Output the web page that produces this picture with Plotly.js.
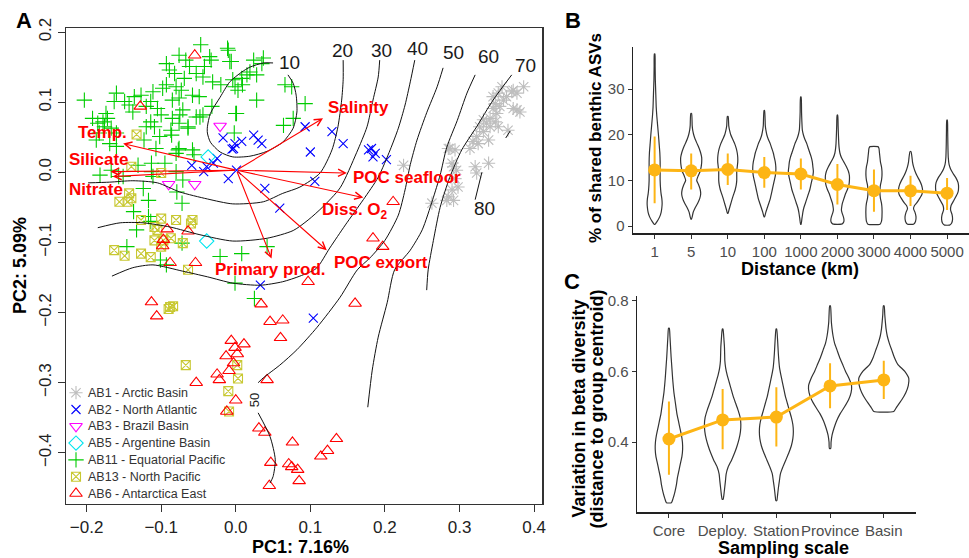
<!DOCTYPE html>
<html><head><meta charset="utf-8">
<script src="https://cdn.plot.ly/plotly-3.0.1.min.js"></script>
<style>html,body{margin:0;padding:0;background:#fff}#chart{width:969px;height:558px}</style>
</head><body><div id="chart"></div>
<script>
// ---------------- Panel A: PCA scores ----------------
const groupNames = ['AB1 - Arctic Basin','AB2 - North Atlantic','AB3 - Brazil Basin','AB5 - Argentine Basin','AB11 - Equatorial Pacific','AB13 - North Pacific','AB6 - Antarctica East'];

const ab1X = [0.386,0.372,0.377,0.370,0.363,0.357,0.352,0.359,0.348,0.345,0.354,0.350,0.341,0.336,0.348,0.352,0.365,0.327,0.332,0.323,0.318,0.314,0.325,0.339,0.332,0.377,0.381,0.372,0.285,0.294,0.290,0.296,0.294,0.298,0.290,0.285,0.292,0.283,0.263,0.225,0.321,0.339,0.323,0.341,0.345,0.287,0.292];
const ab1Y = [0.122,0.117,0.113,0.115,0.108,0.122,0.113,0.103,0.098,0.091,0.094,0.084,0.077,0.070,0.072,0.065,0.060,0.065,0.058,0.051,0.044,0.034,0.041,0.046,0.075,0.089,0.086,0.091,0.034,0.032,0.013,0.003,-0.009,-0.021,-0.025,-0.035,-0.040,-0.040,-0.044,0.010,0.008,0.013,-0.001,0.065,0.108,0.034,0.008];

const ab2X = [0.093,0.129,0.144,0.100,0.178,0.182,0.187,0.184,0.202,-0.017,-0.001,-0.003,-0.005,0.008,0.024,0.030,0.035,0.001,-0.010,0.039,0.059,0.106,-0.059,-0.043,-0.030,-0.025,-0.039,0.033,0.104];
const ab2Y = [0.065,0.058,0.041,0.029,0.032,0.034,0.027,0.022,0.018,0.049,0.041,0.034,0.033,0.044,0.053,0.046,0.041,0.003,-0.009,-0.023,-0.051,-0.013,0.010,0.001,0.013,0.020,0.008,-0.161,-0.208];

const ab3X = [-0.021,-0.090,-0.055];
const ab3Y = [0.066,-0.017,-0.017];

const ab5X = [-0.037,-0.039];
const ab5Y = [0.022,-0.098];

const ab11X = [-0.047,-0.011,-0.076,-0.035,-0.033,-0.006,-0.093,-0.067,-0.062,-0.042,-0.082,-0.089,-0.053,-0.044,-0.069,-0.031,-0.020,-0.004,0.003,0.009,-0.093,-0.098,-0.080,-0.073,-0.058,-0.049,-0.085,-0.076,-0.111,-0.127,-0.136,-0.149,-0.160,-0.163,-0.203,-0.143,-0.138,-0.120,-0.114,-0.105,-0.100,-0.071,-0.053,-0.044,-0.085,-0.076,-0.114,-0.120,-0.109,-0.087,-0.064,-0.174,-0.172,-0.178,-0.192,-0.185,-0.176,-0.167,-0.160,-0.183,-0.187,-0.169,-0.160,-0.123,-0.102,-0.076,-0.058,0.000,-0.002,-0.107,
  -0.010,-0.008,0.024,0.037,0.008,0.015,-0.001,0.028,0.001,0.066,0.064,0.077,-0.032,-0.048,-0.075,-0.064,-0.086,-0.095,-0.077,-0.113,-0.131,-0.113,-0.182,-0.157,-0.124,-0.079,-0.072,-0.117,-0.133,-0.117,-0.137,-0.146,-0.072,-0.021,0.008,0.042,-0.101,
  0.028,0.019,0.075,0.093,0.035,-0.167,-0.151,-0.111,-0.080,-0.071,-0.114,-0.093,-0.056,-0.080,-0.001,0.025];
const ab11Y = [0.182,0.177,0.167,0.165,0.160,0.158,0.155,0.160,0.151,0.151,0.141,0.146,0.141,0.136,0.134,0.129,0.125,0.132,0.117,0.125,0.125,0.120,0.122,0.117,0.110,0.108,0.103,0.106,0.115,0.110,0.108,0.101,0.113,0.101,0.103,0.096,0.086,0.094,0.101,0.091,0.082,0.089,0.079,0.082,0.077,0.070,0.072,0.065,0.065,0.060,0.063,0.084,0.077,0.072,0.077,0.070,0.065,0.063,0.056,0.056,0.046,0.041,0.037,0.046,0.051,0.034,0.032,0.084,0.056,0.034,
  0.174,0.158,0.160,0.163,0.134,0.139,0.122,0.103,0.084,0.125,0.067,0.077,0.094,0.079,0.082,0.065,0.053,0.013,0.032,0.013,0.010,0.001,-0.004,-0.006,-0.023,-0.028,-0.044,-0.040,-0.082,-0.063,-0.056,-0.106,-0.101,-0.120,-0.116,-0.106,-0.125,
  0.139,0.143,0.122,0.098,0.155,0.003,-0.006,-0.006,0.001,-0.011,-0.070,-0.132,0.025,0.027,-0.158,-0.180];

const ab13X = [-0.140,-0.100,-0.143,-0.156,-0.145,-0.140,-0.127,-0.100,-0.080,-0.060,-0.058,-0.109,-0.105,-0.109,-0.087,-0.071,-0.100,-0.163,-0.149,-0.127,-0.114,-0.064,-0.133,-0.097,-0.088,-0.084,-0.090,-0.067,0.002,0.003,-0.010,-0.009];
const ab13Y = [0.008,-0.001,-0.030,-0.042,-0.042,-0.037,-0.068,-0.066,-0.068,-0.073,-0.068,-0.078,-0.082,-0.097,-0.094,-0.101,-0.106,-0.111,-0.119,-0.116,-0.121,-0.139,0.054,-0.097,-0.192,-0.191,-0.195,-0.275,-0.275,-0.294,-0.312,-0.341];

const ab6X = [-0.055,-0.128,-0.092,-0.064,-0.097,-0.098,-0.088,-0.054,-0.113,-0.106,0.034,0.046,0.063,0.060,0.097,0.160,-0.006,-0.001,0.011,0.002,-0.013,-0.003,-0.009,-0.025,-0.022,-0.053,0.042,0.000,-0.012,0.031,0.039,0.076,0.135,0.123,0.114,0.047,0.071,0.075,0.083,0.085,0.045,0.211,0.184,0.197];
const ab6Y = [0.167,0.094,-0.081,-0.084,-0.096,-0.105,-0.129,-0.129,-0.185,-0.205,-0.188,-0.213,-0.211,-0.236,-0.156,-0.187,-0.240,-0.250,-0.245,-0.259,-0.262,-0.272,-0.283,-0.288,-0.296,-0.300,-0.296,-0.325,-0.341,-0.365,-0.371,-0.385,-0.380,-0.397,-0.405,-0.414,-0.416,-0.420,-0.424,-0.440,-0.447,-0.042,-0.094,-0.106];

// ordisurf contour lines (% shared ASVs)
const c10X = [0.050,0.037,0.019,0.008,-0.008,-0.021,-0.034,-0.038,-0.038,-0.034,-0.021,-0.004,0.019,0.042,0.063,0.077,0.082,0.081,0.077,0.070];
const c10Y = [0.156,0.156,0.150,0.143,0.129,0.107,0.084,0.065,0.056,0.043,0.029,0.022,0.023,0.030,0.043,0.063,0.086,0.110,0.127,0.139];
const c20X = [-0.198,-0.169,-0.138,-0.105,-0.075,-0.038,-0.004,0.037,0.063,0.086,0.113,0.129,0.137,0.142,0.144,0.144];
const c20Y = [-0.015,-0.014,-0.012,-0.015,-0.028,-0.038,-0.045,-0.042,-0.030,-0.021,-0.001,0.032,0.065,0.103,0.132,0.160];
const c30X = [-0.185,-0.155,-0.124,-0.088,-0.048,-0.004,0.042,0.077,0.097,0.116,0.140,0.162,0.176,0.184,0.191,0.193];
const c30Y = [-0.079,-0.072,-0.072,-0.078,-0.089,-0.098,-0.094,-0.083,-0.068,-0.050,-0.022,0.028,0.065,0.103,0.136,0.160];
const c40X = [0.240,0.234,0.227,0.218,0.207,0.191,0.171,0.147,0.126,0.108,0.086,0.063,0.033,-0.004,-0.038,-0.071,-0.111,-0.138,-0.166];
const c40Y = [0.160,0.129,0.096,0.063,0.032,-0.007,-0.039,-0.075,-0.108,-0.137,-0.148,-0.156,-0.161,-0.158,-0.149,-0.141,-0.132,-0.136,-0.148];
const c50aX = [0.278,0.270,0.256,0.243,0.234,0.227,0.218,0.200,0.180,0.163,0.140,0.109,0.082,0.059,0.037,0.030];
const c50aY = [0.149,0.122,0.085,0.046,0.011,-0.025,-0.061,-0.097,-0.122,-0.139,-0.178,-0.221,-0.253,-0.275,-0.293,-0.300];
const c50bX = [0.030,0.046,0.053,0.050,0.046];
const c50bY = [-0.343,-0.377,-0.410,-0.434,-0.443];
const c60X = [0.321,0.310,0.297,0.283,0.274,0.264,0.250,0.234,0.213,0.203,0.191,0.183,0.177];
const c60Y = [0.139,0.113,0.074,0.036,-0.004,-0.039,-0.082,-0.111,-0.139,-0.186,-0.235,-0.282,-0.335];
const c70X = [0.370,0.345,0.323,0.303,0.287,0.274,0.265,0.258,0.256];
const c70Y = [0.139,0.103,0.065,0.032,-0.007,-0.050,-0.097,-0.139,-0.168];
const c80aX = [0.368,0.362];
const c80aY = [0.059,0.049];
const c80bX = [0.330,0.321];
const c80bY = [0.000,-0.039];

const contourLabels = ['10','20','30','40','50','60','70','80'];
const contourLabelX = [0.072,0.143,0.195,0.243,0.292,0.339,0.388,0.334];
const contourLabelY = [0.157,0.174,0.174,0.176,0.171,0.165,0.153,-0.052];
const contourSideLabel = '50';
const contourSideX = 0.0245, contourSideY = -0.325;

// environmental fitted vectors
const envNames = ['Temp.','Silicate','Nitrate','Salinity','POC seafloor','Diss. O<sub>2</sub>','POC export','Primary prod.'];
const envTipX = [-0.151,-0.168,-0.165,0.117,0.149,0.171,0.122,0.048];
const envTipY = [0.041,0.001,-0.006,0.077,-0.001,-0.036,-0.111,-0.123];
const envLabelX = [-0.179,-0.183,-0.187,0.164,0.229,0.160,0.195,0.047];
const envLabelY = [0.057,0.018,-0.024,0.092,-0.007,-0.055,-0.128,-0.139];
const envOriginX = 0.001, envOriginY = 0.003;

// ---------------- Panel B: shared ASVs vs distance ----------------
const distanceLabels = ['1','5','10','100','1000','2000','3000','4000','5000'];
const sharedMean = [12.3,12.1,12.4,11.7,11.4,9.1,7.75,7.7,7.2];
const sharedLow  = [5.0,8.0,9.0,8.4,8.0,4.7,3.1,4.4,3.5];
const sharedHigh = [19.6,15.9,15.9,15.1,14.8,13.6,12.4,11.0,10.5];
const sharedViolinLevels = [
  [0.4,1,2,3,4,5,6,7,8,10,12,14,16,18,20,22,24,26,28,30,32,35,37.7],
  [1.5,2,3,4,5,6,7,8,9,10,11,12,13,14,15,16,17,18,19,20,21,22,24.7],
  [2.8,3.5,4.5,6,7,8,9,10,11,12,13,14,15,16,17,18,19,20,21,22,24],
  [2,3,4,5,6,7,8,9,10,11,12,13,14,15,16,17,18,19,20,21,22,25.3],
  [0.4,1.5,3,4,5,6,7,8,9,10,11,12,13,14,15,16,17,18,19,20,21,23,25,28.3],
  [0.4,0.6,1,1.5,2,3,3.5,4,5,6,7,8,9,10,11,12,13,14,15,16,17,18,20,22,24.3],
  [0.4,1,2,4,5,6,7,8,9,10,11,12,13,14,15,16,17,17.4],
  [0.4,1,2,3,3.8,4.5,5,6,7,8,9,10,11,12,13,14,15,16.3],
  [0.2,0.6,1.5,2.5,3.5,4.5,5.5,6.5,7.5,8.5,9.5,10.5,11.5,12.5,13.5,15,18,21,23.2]
];
const sharedViolinWidths = [
  [0.5,2.5,5,6.5,7.2,7.5,7.2,6.5,6,5.5,5.5,5.5,5.2,4.5,3.8,3,2.2,1.6,1.3,1,0.7,0.5,0.3],
  [0.3,1,2,4,6.5,8.5,9.5,9,7.5,5.5,7,9,10,10.5,10.5,9.5,8,6,4,2.5,1.5,1,0.4],
  [0.3,1.2,2.5,4.5,6,7.5,8.5,9,9,9,9.5,10,10,9.5,8.5,7,5,3,1.8,1,0.4],
  [0.3,1.5,3,4.5,6,7,8,9,10,11,11.5,11.5,11,10,9,7.5,6,4,2.5,1.6,1,0.3],
  [0.3,1,2,3,4.5,6,7.5,9,10,11,12,12.5,12,11.5,10.5,9,7.5,6,4,2.5,1.5,1,0.7,0.3],
  [4,5.5,6.5,6.5,6,4.5,4,4.2,5,6.5,8,10,11.5,12,12,11,9,6.5,4,2.5,1.8,1.4,1,0.7,0.3],
  [6,7.5,8,8,7.5,6.5,6,6,6.5,7.5,8,8,7.5,6.5,6,5.5,5,4],
  [3,5,5.5,4.5,3,4,6,9,11.5,12,11,9,6.5,4.5,3,2,1.5,0.5],
  [2.5,4.5,5.5,5,3.5,4,6.5,9,11,11.5,11,9,6,3.5,2,1.2,0.8,0.6,0.3]
];

// ---------------- Panel C: beta diversity vs sampling scale ----------------
const scaleLabels = ['Core','Deploy.','Station','Province','Basin'];
const betaMean = [0.409,0.463,0.471,0.559,0.576];
const betaLow  = [0.308,0.380,0.388,0.496,0.522];
const betaHigh = [0.515,0.550,0.555,0.623,0.630];
const betaViolinLevels = [
  [0.229,0.24,0.26,0.28,0.30,0.32,0.34,0.36,0.38,0.40,0.42,0.44,0.46,0.48,0.50,0.52,0.54,0.56,0.58,0.60,0.62,0.64,0.66,0.68,0.70,0.722],
  [0.239,0.25,0.27,0.29,0.31,0.33,0.35,0.37,0.39,0.41,0.43,0.45,0.47,0.49,0.51,0.53,0.55,0.57,0.59,0.61,0.63,0.65,0.67,0.69,0.71,0.72],
  [0.235,0.25,0.27,0.29,0.31,0.33,0.35,0.37,0.39,0.41,0.43,0.45,0.47,0.49,0.51,0.53,0.55,0.57,0.59,0.61,0.63,0.65,0.67,0.69,0.72],
  [0.383,0.40,0.42,0.44,0.46,0.48,0.50,0.52,0.54,0.56,0.58,0.60,0.62,0.64,0.66,0.68,0.70,0.72,0.74,0.76,0.785],
  [0.487,0.50,0.52,0.54,0.56,0.58,0.60,0.62,0.64,0.66,0.68,0.70,0.72,0.74,0.76,0.785]
];
const betaViolinWidths = [
  [2.5,4,6,7.5,8.5,10,11.5,13,13.7,13.5,12.5,11,9.5,8,7,6,5,4.3,3.7,3.2,2.7,2.2,1.8,1.4,1,0.4],
  [0.5,1.2,2,2.8,3.5,5.5,9,12,14.5,16.5,17.8,18.2,17.5,15.5,13,10.5,8.5,6.5,4.5,3,2.2,2,1.8,1.3,0.8,0.3],
  [0.5,1.2,2,3,4,6.5,9.5,12.5,15,16.5,17,16.5,15,13,11,9,7.5,6,4.5,3.2,2.5,2,1.6,1.2,0.3],
  [0.7,1,2,4,6.5,10,14.5,18.5,21,21.5,19,15.5,12.5,9.5,7,4.5,3,2,1.3,1,0.4],
  [10,13,18,22,24.5,25,21,14,10.5,8,5.5,3.5,2.3,1.6,1,0.4]
];

// ---------------- build ----------------
const FONT = 'Liberation Sans, Arial, Helvetica, sans-serif';
const W = 969, H = 558;
const px = v => v / W, py = v => 1 - v / H;
const B_PX_PER_CAT = 36.5, C_PX_PER_CAT = 53.7;
// legend box placement (pixel frame)
const LEG_SYMBOL_X = 76, LEG_TEXT_X = 86, LEG_TOP = 392.7, LEG_STEP = 16.8;

const traces = [];
const ann = [];
const groupStyles = []; // filled below, indexed like groupNames
function pts(idx, xs, ys, symbol, color, size) {
  groupStyles[idx] = {symbol:symbol, color:color, size:size};
  traces.push({type:'scatter', mode:'markers', x:xs, y:ys, name:groupNames[idx], xaxis:'x', yaxis:'y',
    showlegend:false, hoverinfo:'skip',
    marker:{symbol:symbol, size:size, color:color, line:{color:color, width:1.1}}});
}
pts(4, ab11X, ab11Y, 'cross-thin-open', '#00cc00', 11);
pts(5, ab13X, ab13Y, 'square-x-open', '#c8c832', 9);
pts(6, ab6X, ab6Y, 'triangle-up-open', '#ff0000', 11);
pts(1, ab2X, ab2Y, 'x-thin-open', '#0000ff', 9);
pts(2, ab3X, ab3Y, 'triangle-down-open', '#ff00ff', 11);
pts(3, ab5X, ab5Y, 'diamond-open', '#00e5ee', 11);
pts(0, ab1X, ab1Y, 'asterisk-open', '#bebebe', 11);

[[c10X,c10Y],[c20X,c20Y],[c30X,c30Y],[c40X,c40Y],[c50aX,c50aY],[c50bX,c50bY],[c60X,c60Y],[c70X,c70Y],[c80aX,c80aY],[c80bX,c80bY]].forEach(c => {
  traces.push({type:'scatter', mode:'lines', x:c[0], y:c[1], xaxis:'x', yaxis:'y', showlegend:false, hoverinfo:'skip',
    line:{color:'#111', width:1, shape:'spline', smoothing:0.7}});
});

// legend (drawn in a pixel-frame overlay axis so the row spacing matches the R legend)
groupNames.forEach((name, i) => {
  const s = groupStyles[i];
  traces.push({type:'scatter', mode:'markers', x:[LEG_SYMBOL_X], y:[LEG_TOP + i * LEG_STEP], xaxis:'x4', yaxis:'y4',
    showlegend:false, hoverinfo:'skip',
    marker:{symbol:s.symbol, size:s.size, color:s.color, line:{color:s.color, width:1.1}}});
  ann.push({xref:'x4', yref:'y4', x:LEG_TEXT_X, y:LEG_TOP + i * LEG_STEP, text:name, showarrow:false,
    xanchor:'left', yanchor:'middle', font:{family:FONT, size:12.5, color:'#333'}});
});

// violins
function violin(center, levels, widths, scale, xa, ya) {
  const xs = [], ys = [];
  for (let i = 0; i < levels.length; i++) { xs.push(center - widths[i] / scale); ys.push(levels[i]); }
  for (let i = levels.length - 1; i >= 0; i--) { xs.push(center + widths[i] / scale); ys.push(levels[i]); }
  xs.push(xs[0]); ys.push(ys[0]);
  traces.push({type:'scatter', mode:'lines', x:xs, y:ys, xaxis:xa, yaxis:ya, showlegend:false, hoverinfo:'skip',
    line:{color:'#333', width:1.2, shape:'spline', smoothing:0.5}});
}
sharedViolinLevels.forEach((lv, i) => violin(i + 1, lv, sharedViolinWidths[i], B_PX_PER_CAT, 'x2', 'y2'));
betaViolinLevels.forEach((lv, i) => violin(i + 1, lv, betaViolinWidths[i], C_PX_PER_CAT, 'x3', 'y3'));

const YEL = '#fdb515';
function meanTrace(means, lows, highs, xa, ya) {
  traces.push({type:'scatter', mode:'lines+markers', x:means.map((_, i) => i + 1), y:means, xaxis:xa, yaxis:ya,
    showlegend:false, hoverinfo:'skip',
    line:{color:YEL, width:3}, marker:{color:YEL, size:13},
    error_y:{type:'data', symmetric:false, array:highs.map((h, i) => h - means[i]), arrayminus:lows.map((l, i) => means[i] - l),
      color:YEL, thickness:2, width:0}});
}
meanTrace(sharedMean, sharedLow, sharedHigh, 'x2', 'y2');
meanTrace(betaMean, betaLow, betaHigh, 'x3', 'y3');

// annotations
envNames.forEach((n, i) => {
  ann.push({xref:'x', yref:'y', axref:'x', ayref:'y', x:envTipX[i], y:envTipY[i], ax:envOriginX, ay:envOriginY,
    text:'', showarrow:true, arrowhead:5, arrowsize:1.3, arrowwidth:1.1, arrowcolor:'#ff0000', standoff:0, startstandoff:0});
  ann.push({xref:'x', yref:'y', x:envLabelX[i], y:envLabelY[i], text:'<b>' + n + '</b>', showarrow:false,
    font:{family:FONT, size:17, color:'#ff0000'}, xanchor:'center', yanchor:'middle'});
});
contourLabels.forEach((t, i) => {
  ann.push({xref:'x', yref:'y', x:contourLabelX[i], y:contourLabelY[i], text:t, showarrow:false,
    font:{family:FONT, size:19, color:'#1a1a1a'}, xanchor:'center', yanchor:'middle'});
});
ann.push({xref:'x', yref:'y', x:contourSideX, y:contourSideY, text:contourSideLabel, showarrow:false, textangle:-90,
  font:{family:FONT, size:13, color:'#1a1a1a'}, xanchor:'center', yanchor:'middle'});

function pText(text, x, y, size, angle, color) {
  ann.push({xref:'paper', yref:'paper', x:px(x), y:py(y), text:text, showarrow:false, textangle:angle || 0,
    font:{family:FONT, size:size, color:color || '#000'}, xanchor:'center', yanchor:'middle'});
}
pText('<b>A</b>', 23.5, 20.5, 22);
pText('<b>B</b>', 572.5, 20.5, 22);
pText('<b>C</b>', 572, 281, 22);
pText('<b>PC1: 7.16%</b>', 300, 547, 18);
pText('<b>PC2: 5.09%</b>', 20, 266, 18, -90);
pText('<b>% of shared benthic ASVs</b>', 595, 138, 17, -90);
pText('<b>Distance (km)</b>', 800, 269, 18);
pText('<b>Variation in beta diversity</b>', 578.5, 409, 18, -90);
pText('<b>(distance to group centroid)</b>', 596.5, 409, 18, -90);
pText('<b>Sampling scale</b>', 783, 548, 18);

const axA = {showgrid:false, zeroline:false, showline:true, mirror:true, linecolor:'#333', linewidth:1.2,
  ticks:'outside', ticklen:7, tickcolor:'#333', tickwidth:1, tickformat:'.1f',
  tickfont:{family:FONT, size:17, color:'#222'}};
const axBC = {showgrid:false, zeroline:false, showline:true, linecolor:'#222', linewidth:1.2,
  ticks:'outside', ticklen:4, tickcolor:'#333', tickwidth:1, tickangle:0, tickfont:{family:FONT, size:15, color:'#4d4d4d'}};

const layout = {
  width:W, height:H, margin:{l:0, r:0, t:0, b:0}, paper_bgcolor:'#fff', plot_bgcolor:'rgba(0,0,0,0)',
  font:{family:FONT}, showlegend:false,
  xaxis:Object.assign({}, axA, {domain:[65.7/W, 542.3/W], range:[-0.228, 0.411], tickvals:[-0.2,-0.1,0,0.1,0.2,0.3,0.4], anchor:'y'}),
  yaxis:Object.assign({}, axA, {domain:[py(504), py(28.3)], range:[-0.473, 0.2054], tickvals:[-0.4,-0.3,-0.2,-0.1,0,0.1,0.2], tickangle:-90, anchor:'x'}),
  xaxis2:Object.assign({}, axBC, {domain:[632.7/W, 1], range:[0.4, 9.6], tickvals:distanceLabels.map((_, i) => i + 1), ticktext:distanceLabels, anchor:'y2'}),
  yaxis2:Object.assign({}, axBC, {domain:[py(233.3), py(46.7)], range:[-1.6, 39.3], tickvals:[0,10,20,30], anchor:'x2'}),
  xaxis3:Object.assign({}, axBC, {domain:[636.7/W, 916/W], range:[0.4, 5.6], tickvals:scaleLabels.map((_, i) => i + 1), ticktext:scaleLabels, anchor:'y3'}),
  yaxis3:Object.assign({}, axBC, {domain:[py(512.3), py(296)], range:[0.202, 0.813], tickvals:[0.4,0.6,0.8], tickformat:'.1f', anchor:'x3'}),
  xaxis4:{domain:[0, 1], range:[0, W], visible:false, anchor:'y4'},
  yaxis4:{domain:[0, 1], range:[H, 0], visible:false, anchor:'x4'},
  annotations:ann
};

Plotly.newPlot('chart', traces, layout, {staticPlot:true, displayModeBar:false});
</script></body></html>
